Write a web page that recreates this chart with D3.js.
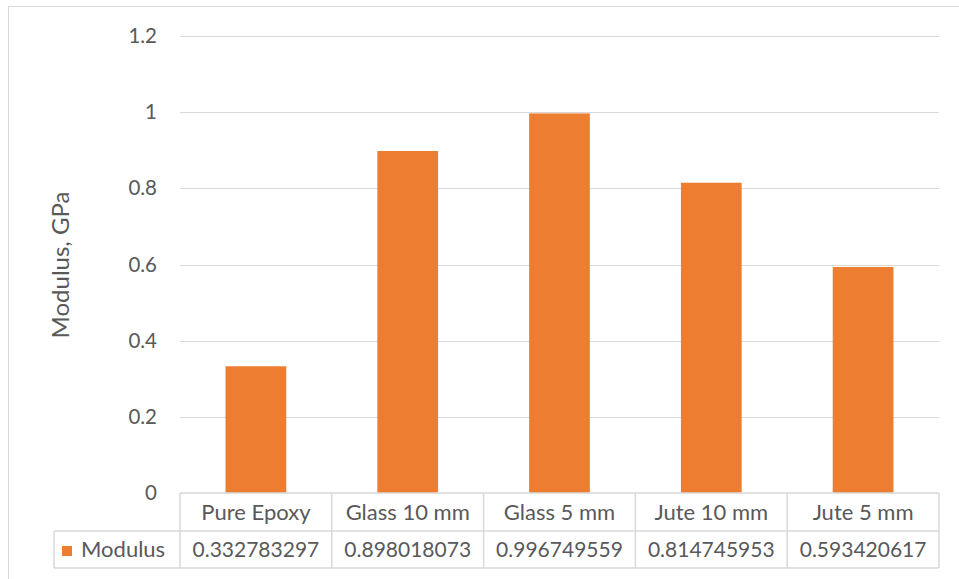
<!DOCTYPE html>
<html>
<head>
<meta charset="utf-8">
<script src="https://cdn.jsdelivr.net/npm/d3@7"></script>
<style>
  html, body { margin: 0; padding: 0; background: #fff; }
  svg { display: block; font-family: "Lato", "Open Sans", sans-serif; }
</style>
</head>
<body>
<svg id="chart" width="959" height="579"></svg>
<script>
// Tensile modulus by specimen type
const categories = ["Pure Epoxy", "Glass 10 mm", "Glass 5 mm", "Jute 10 mm", "Jute 5 mm"];
const modulus = [0.332783297, 0.898018073, 0.996749559, 0.814745953, 0.593420617];
const tableLabels = ["0.332783297", "0.898018073", "0.996749559", "0.814745953", "0.593420617"];
const yTicks = [0, 0.2, 0.4, 0.6, 0.8, 1, 1.2];
const seriesName = "Modulus";
const yTitle = "Modulus, GPa";

const svg = d3.select("#chart");
const textColor = "#595959";
const lineColor = "#d9d9d9";
const barColor = "#ED7D31";

const plot = { left: 180, right: 939, top: 36, bottom: 493 };
const row1 = { top: 493, bottom: 531 };
const row2 = { top: 531, bottom: 568 };
const legendLeft = 54;

// Outer chart frame
svg.append("rect")
  .attr("x", 8.5).attr("y", 6.5)
  .attr("width", 1000).attr("height", 1000)
  .attr("fill", "none").attr("stroke", lineColor).attr("stroke-width", 1);

const x = d3.scaleBand().domain(categories).range([plot.left, plot.right]).paddingInner(0).paddingOuter(0);
const y = d3.scaleLinear().domain([0, 1.2]).range([plot.bottom, plot.top]);

// Horizontal gridlines
svg.append("g")
  .selectAll("line")
  .data(yTicks.filter(t => t > 0))
  .join("line")
  .attr("x1", plot.left).attr("x2", plot.right)
  .attr("y1", d => Math.round(y(d)) + 0.5).attr("y2", d => Math.round(y(d)) + 0.5)
  .attr("stroke", lineColor).attr("stroke-width", 1);

// Y axis tick labels
const yAxis = d3.axisLeft(y).tickValues(yTicks).tickFormat(d3.format("~g")).tickSize(0).tickPadding(0);
const yg = svg.append("g").attr("transform", "translate(157,0)").call(yAxis);
yg.select(".domain").remove();
yg.selectAll("text")
  .attr("fill", textColor)
  .style("font-size", "20.5px")
  .style("font-family", "Lato, sans-serif");

// Bars
const barW = x.bandwidth() * 0.4;
svg.append("g")
  .selectAll("rect")
  .data(categories.map((c, i) => ({ c, v: modulus[i] })))
  .join("rect")
  .attr("x", d => x(d.c) + (x.bandwidth() - barW) / 2)
  .attr("width", barW)
  .attr("y", d => y(d.v))
  .attr("height", d => y(0) - y(d.v))
  .attr("fill", barColor);

// Y axis title
svg.append("text")
  .attr("transform", "translate(69,265) rotate(-90)")
  .attr("text-anchor", "middle")
  .attr("fill", textColor)
  .style("font-size", "24px")
  .text(yTitle);

// Data table
const tg = svg.append("g");
const hline = (x1, x2, yy) => tg.append("line").attr("x1", x1).attr("x2", x2).attr("y1", yy).attr("y2", yy)
  .attr("stroke", lineColor).attr("stroke-width", 1.5);
const vline = (xx, y1, y2) => tg.append("line").attr("x1", xx).attr("x2", xx).attr("y1", y1).attr("y2", y2)
  .attr("stroke", lineColor).attr("stroke-width", 1.5);

hline(plot.left, plot.right, row1.top);
hline(legendLeft, plot.right, row2.top);
hline(legendLeft, plot.right, row2.bottom);
vline(legendLeft, row2.top, row2.bottom);
categories.forEach(c => vline(x(c), row1.top, row2.bottom));
vline(plot.right, row1.top, row2.bottom);

tg.selectAll("text.cat")
  .data(categories)
  .join("text")
  .attr("class", "cat")
  .attr("x", d => x(d) + x.bandwidth() / 2)
  .attr("y", (row1.top + row1.bottom) / 2)
  .attr("dy", "0.35em")
  .attr("text-anchor", "middle")
  .attr("fill", textColor)
  .style("font-size", "22px")
  .text(d => d);

tg.selectAll("text.val")
  .data(categories.map((c, i) => ({ c, t: tableLabels[i] })))
  .join("text")
  .attr("class", "val")
  .attr("x", d => x(d.c) + x.bandwidth() / 2)
  .attr("y", (row2.top + row2.bottom) / 2)
  .attr("dy", "0.35em")
  .attr("text-anchor", "middle")
  .attr("fill", textColor)
  .style("font-size", "21px")
  .text(d => d.t);

// Legend key inside the table
tg.append("rect")
  .attr("x", 62).attr("y", 546)
  .attr("width", 10).attr("height", 10)
  .attr("fill", barColor);
tg.append("text")
  .attr("x", 81)
  .attr("y", (row2.top + row2.bottom) / 2)
  .attr("dy", "0.35em")
  .attr("fill", textColor)
  .style("font-size", "22px")
  .text(seriesName);
</script>
</body>
</html>
